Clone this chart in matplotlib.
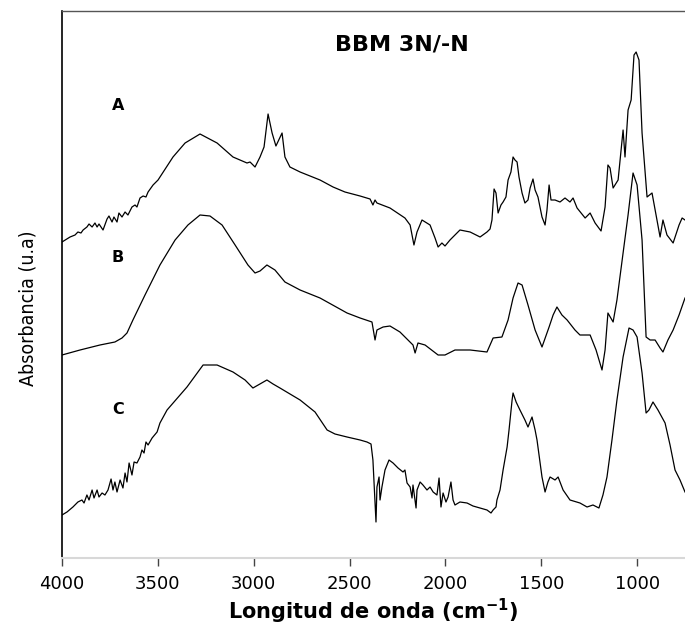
import numpy as np
import matplotlib
matplotlib.use("Agg")
import matplotlib.pyplot as plt
from matplotlib import font_manager

# FTIR spectra (wavenumber in cm-1, absorbance in a.u., stacked)
wn_a = [4000, 3958, 3932, 3917, 3901, 3890, 3870, 3859, 3843, 3828, 3817, 3807, 3786,
        3765, 3755, 3739, 3729, 3713, 3703, 3687, 3671, 3656, 3635, 3619, 3609, 3593,
        3577, 3562, 3551, 3525, 3499, 3421, 3358, 3280, 3191, 3108, 3035, 3019, 2993,
        2967, 2946, 2925, 2904, 2884, 2852, 2837, 2811, 2758, 2654, 2586, 2524, 2445,
        2393, 2378, 2367, 2357, 2289, 2211, 2184, 2164, 2148, 2122, 2080, 2054, 2038,
        2018, 2002, 1976, 1924, 1871, 1819, 1783, 1767, 1757, 1746, 1736, 1725, 1710,
        1699, 1684, 1673, 1658, 1647, 1637, 1626, 1616, 1600, 1585, 1569, 1558, 1543,
        1532, 1517, 1496, 1480, 1470, 1459, 1449, 1428, 1402, 1376, 1350, 1334, 1313,
        1271, 1245, 1219, 1188, 1167, 1152, 1141, 1125, 1099, 1073, 1063, 1047, 1031,
        1016, 1005, 990, 974, 948, 922, 901, 880, 865, 844, 812, 781, 765, 750]
abs_a = [3.16, 3.21, 3.23, 3.26, 3.25, 3.28, 3.31, 3.34, 3.31, 3.35, 3.31, 3.34, 3.28,
         3.39, 3.42, 3.36, 3.41, 3.36, 3.45, 3.41, 3.46, 3.43, 3.51, 3.53, 3.51, 3.60,
         3.62, 3.61, 3.66, 3.73, 3.78, 4.01, 4.15, 4.24, 4.15, 4.01, 3.95, 3.96, 3.91,
         4.01, 4.11, 4.44, 4.25, 4.12, 4.25, 4.01, 3.91, 3.86, 3.78, 3.71, 3.66, 3.62,
         3.59, 3.53, 3.58, 3.55, 3.50, 3.40, 3.33, 3.13, 3.26, 3.38, 3.33, 3.20, 3.11,
         3.15, 3.12, 3.18, 3.28, 3.26, 3.21, 3.26, 3.29, 3.38, 3.69, 3.65, 3.45, 3.53,
         3.56, 3.61, 3.78, 3.86, 4.01, 3.98, 3.96, 3.81, 3.65, 3.55, 3.58, 3.70, 3.79,
         3.68, 3.61, 3.41, 3.33, 3.48, 3.73, 3.58, 3.58, 3.56, 3.60, 3.56, 3.60, 3.50,
         3.40, 3.45, 3.35, 3.27, 3.51, 3.93, 3.90, 3.70, 3.78, 4.28, 4.01, 4.48, 4.58,
         5.03, 5.06, 4.98, 4.25, 3.61, 3.65, 3.43, 3.21, 3.38, 3.23, 3.15, 3.33, 3.40, 3.38]

wn_b = [4000, 3906, 3802, 3724, 3687, 3661, 3630, 3567, 3489, 3410, 3343, 3280, 3228,
        3165, 3097, 3030, 2993, 2967, 2931, 2889, 2837, 2758, 2654, 2513, 2445, 2383,
        2367, 2357, 2325, 2289, 2237, 2169, 2158, 2143, 2106, 2038, 2002, 1950, 1871,
        1783, 1751, 1705, 1673, 1647, 1621, 1600, 1569, 1532, 1496, 1459, 1438, 1418,
        1392, 1365, 1324, 1298, 1245, 1214, 1183, 1167, 1152, 1125, 1105, 1073, 1047,
        1021, 1000, 974, 953, 932, 906, 880, 865, 839, 812, 781, 750]
abs_b = [2.03, 2.08, 2.13, 2.16, 2.20, 2.25, 2.38, 2.63, 2.93, 3.18, 3.33, 3.43, 3.42,
         3.33, 3.13, 2.93, 2.85, 2.87, 2.93, 2.88, 2.76, 2.68, 2.60, 2.45, 2.40, 2.36,
         2.18, 2.28, 2.31, 2.32, 2.26, 2.13, 2.05, 2.15, 2.13, 2.03, 2.03, 2.08, 2.08,
         2.06, 2.20, 2.21, 2.38, 2.60, 2.75, 2.73, 2.53, 2.28, 2.11, 2.31, 2.43, 2.51,
         2.43, 2.38, 2.28, 2.23, 2.23, 2.08, 1.88, 2.08, 2.45, 2.36, 2.58, 3.05, 3.43,
         3.85, 3.73, 3.18, 2.21, 2.18, 2.18, 2.10, 2.06, 2.18, 2.28, 2.43, 2.60]

wn_c = [4000, 3974, 3943, 3917, 3896, 3885, 3870, 3859, 3843, 3833, 3817, 3807, 3791,
        3776, 3760, 3744, 3734, 3724, 3713, 3697, 3682, 3671, 3661, 3650, 3635, 3624,
        3609, 3593, 3583, 3572, 3562, 3551, 3530, 3504, 3489, 3452, 3348, 3264, 3191,
        3108, 3045, 3004, 2967, 2931, 2899, 2863, 2758, 2680, 2617, 2576, 2513, 2445,
        2409, 2388, 2378, 2367, 2362, 2357, 2346, 2341, 2331, 2315, 2294, 2273, 2247,
        2221, 2211, 2200, 2184, 2174, 2169, 2153, 2148, 2132, 2117, 2096, 2080, 2064,
        2044, 2033, 2023, 2012, 1997, 1986, 1971, 1960, 1950, 1924, 1887, 1856, 1819,
        1783, 1762, 1751, 1736, 1731, 1715, 1699, 1678, 1668, 1652, 1647, 1631, 1611,
        1585, 1569, 1548, 1532, 1522, 1496, 1480, 1465, 1454, 1428, 1412, 1386, 1350,
        1298, 1261, 1230, 1199, 1178, 1157, 1131, 1105, 1073, 1042, 1021, 1000, 974,
        953, 938, 917, 891, 854, 828, 802, 776, 750]
abs_c = [0.43, 0.46, 0.51, 0.56, 0.58, 0.55, 0.63, 0.58, 0.68, 0.60, 0.68, 0.61, 0.65,
         0.63, 0.68, 0.79, 0.68, 0.76, 0.66, 0.78, 0.70, 0.85, 0.76, 0.95, 0.83, 0.96,
         0.95, 1.01, 1.08, 1.05, 1.16, 1.13, 1.20, 1.26, 1.35, 1.48, 1.71, 1.93, 1.93,
         1.86, 1.78, 1.70, 1.74, 1.78, 1.74, 1.70, 1.58, 1.46, 1.28, 1.24, 1.21, 1.18,
         1.16, 1.14, 0.98, 0.55, 0.36, 0.71, 0.81, 0.58, 0.71, 0.88, 0.98, 0.95, 0.90,
         0.86, 0.88, 0.75, 0.71, 0.60, 0.73, 0.50, 0.68, 0.76, 0.73, 0.68, 0.71, 0.66,
         0.63, 0.80, 0.51, 0.65, 0.56, 0.61, 0.76, 0.58, 0.53, 0.56, 0.55, 0.52, 0.50,
         0.48, 0.45, 0.48, 0.51, 0.58, 0.68, 0.88, 1.11, 1.28, 1.58, 1.65, 1.56, 1.48,
         1.38, 1.31, 1.41, 1.28, 1.18, 0.81, 0.66, 0.76, 0.81, 0.78, 0.81, 0.68, 0.58,
         0.55, 0.51, 0.53, 0.50, 0.63, 0.81, 1.18, 1.58, 2.01, 2.30, 2.28, 2.21, 1.85,
         1.45, 1.48, 1.56, 1.48, 1.35, 1.13, 0.88, 0.78, 0.66]

labels = ["A", "B", "C"]
label_pos = [4.53, 3.00, 1.48]
x_ticks = [4000, 3500, 3000, 2500, 2000, 1500, 1000]


def pick_font(names):
    available = {f.name for f in font_manager.fontManager.ttflist}
    for n in names:
        if n in available:
            return n
    return "DejaVu Sans"


narrow = pick_font(["Liberation Sans Narrow", "Arial Narrow", "DejaVu Sans"])

fig = plt.figure(figsize=(6.85, 6.28), dpi=100)
ax = fig.add_axes([62 / 685, 1 - 558 / 628, 623 / 685, 547 / 628])

for wn, ab in [(wn_a, abs_a), (wn_b, abs_b), (wn_c, abs_c)]:
    ax.plot(wn, ab, color="black", linewidth=0.9)
for name, ly in zip(labels, label_pos):
    ax.text(3708, ly, name, fontsize=11.5, fontweight="bold", ha="center", va="center")

ax.text(2226, 5.13, "BBM 3N/-N", fontsize=16, fontweight="bold", ha="center", va="center")

ax.set_xlim(4000, 750)
ax.set_ylim(0, 5.47)
ax.set_xticks(x_ticks)
ax.set_yticks([])
ax.tick_params(axis="x", direction="out", length=6, width=1, color="#444444",
               labelsize=13, pad=6)

ax.spines["left"].set_color("black")
ax.spines["left"].set_linewidth(1.2)
ax.spines["top"].set_color("#555555")
ax.spines["top"].set_linewidth(1)
ax.spines["bottom"].set_color("#d8d8d8")
ax.spines["bottom"].set_linewidth(1.5)
ax.spines["right"].set_visible(False)

ax.set_xlabel("Longitud de onda (cm$^{\\mathbf{-1}}$)", fontsize=15, fontweight="bold",
              labelpad=3)
if narrow == "DejaVu Sans":
    fig.text(28 / 685, 1 - 308 / 628, "Absorbancia (u.a)", family=narrow,
             fontstretch="condensed", fontsize=14, rotation=90, ha="center", va="center")
else:
    fig.text(28 / 685, 1 - 308 / 628, "Absorbancia (u.a)", family=narrow,
             fontsize=18.5, rotation=90, ha="center", va="center")

fig.savefig("out.png", dpi=100)
